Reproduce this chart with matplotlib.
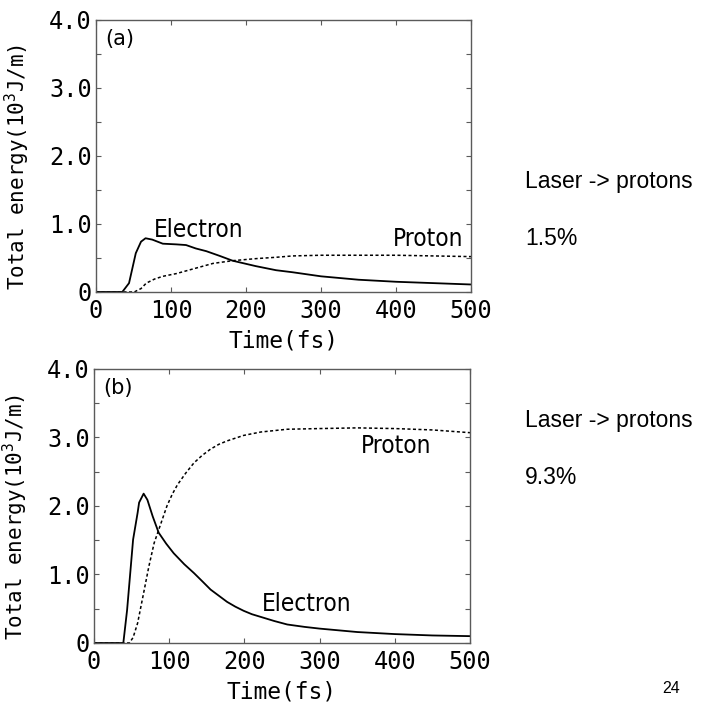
import matplotlib
matplotlib.use("Agg")
import matplotlib.pyplot as plt
from matplotlib import font_manager
from matplotlib.ticker import MultipleLocator

# panel (a): 1.5% laser -> protons
t_elec_a = [0, 35, 44, 53, 60, 66, 75, 89, 107, 120, 133, 147, 165, 182, 213, 240, 262, 300, 350, 400, 450, 500]
elec_a = [0, 0, 0.13, 0.57, 0.74, 0.79, 0.77, 0.71, 0.70, 0.69, 0.64, 0.60, 0.53, 0.46, 0.38, 0.32, 0.29, 0.23, 0.18, 0.15, 0.13, 0.11]
t_prot_a = [0, 51, 60, 67, 78, 89, 107, 133, 156, 182, 213, 240, 262, 300, 350, 400, 450, 500]
prot_a = [0, 0, 0.05, 0.13, 0.19, 0.23, 0.27, 0.35, 0.42, 0.46, 0.49, 0.51, 0.53, 0.54, 0.54, 0.54, 0.53, 0.52]

# panel (b): 9.3% laser -> protons
t_elec_b = [0, 39, 44, 52, 58, 60, 66, 71, 78, 86, 96, 106, 120, 133, 145, 155, 166, 177, 188, 199,
            210, 222, 240, 257, 280, 300, 350, 400, 450, 500]
elec_b = [0, 0, 0.48, 1.51, 1.90, 2.05, 2.18, 2.09, 1.85, 1.61, 1.45, 1.31, 1.15, 1.02, 0.89, 0.78, 0.69, 0.60, 0.53, 0.47,
          0.42, 0.38, 0.32, 0.27, 0.235, 0.21, 0.16, 0.13, 0.11, 0.10]
t_prot_b = [0, 47, 52, 58, 66, 73, 80, 86, 97, 104, 111, 122, 133, 144, 155, 166, 177, 199, 222, 257, 300, 350, 400, 450, 500]
prot_b = [0, 0, 0.08, 0.29, 0.73, 1.12, 1.46, 1.65, 2.00, 2.17, 2.31, 2.48, 2.63, 2.74, 2.83, 2.90, 2.95, 3.03, 3.08, 3.12, 3.13, 3.14, 3.13, 3.11, 3.07]

yticks = [0, 1, 2, 3, 4]
ytick_labels = ["0", "1.0", "2.0", "3.0", "4.0"]
xticks = [0, 100, 200, 300, 400, 500]
xtick_labels = ["0", "100", "200", "300", "400", "500"]

efficiency = ["1.5%", "9.3%"]
page_number = "24"

names = {f.name for f in font_manager.fontManager.ttflist}
if "Liberation Sans Narrow" in names:
    narrow = dict(family="Liberation Sans Narrow")
else:
    narrow = dict(family="DejaVu Sans", stretch="condensed")
mono = "DejaVu Sans Mono"
grey = "#5a5a5a"

fig = plt.figure(figsize=(7.02, 7.09), dpi=100)
ax_a = fig.add_axes([0.1368, 0.5882, 0.5342, 0.3836])
ax_b = fig.add_axes([0.1339, 0.0931, 0.5356, 0.3865])


def setup(ax, tag):
    ax.set_xlim(0, 500)
    ax.set_ylim(0, 4.0)
    ax.set_xticks(xticks)
    ax.set_xticklabels(xtick_labels, family=mono, fontsize=17)
    ax.set_yticks(yticks)
    ax.set_yticklabels(ytick_labels, family=mono, fontsize=17)
    ax.yaxis.set_minor_locator(MultipleLocator(0.5))
    ax.tick_params(which="both", direction="in", top=True, right=True,
                   color=grey, length=3.5, width=0.8)
    ax.tick_params(axis="x", pad=5)
    ax.tick_params(axis="y", pad=3)
    for s in ax.spines.values():
        s.set_color(grey)
        s.set_linewidth(1.0)
    ax.set_xlabel("Time(fs)", family=mono, fontsize=16.5, labelpad=5)
    ax.set_ylabel("Total energy(10$^{\\mathregular{3}}$J/m)", family=mono, fontsize=15)
    ax.yaxis.set_label_coords(-0.17, 0.46)
    ax.text(0.025, 0.968, tag, transform=ax.transAxes, fontsize=15,
            family="DejaVu Sans", va="top", ha="left")


setup(ax_a, "(a)")
ax_a.plot(t_elec_a, elec_a, color="black", lw=1.3)
ax_a.plot(t_prot_a, prot_a, color="black", lw=1.1, linestyle=(0, (2, 1.6)))
ax_a.text(137, 0.91, "Electron", fontsize=17.5, ha="center", va="center", **narrow)
ax_a.text(443, 0.78, "Proton", fontsize=17.5, ha="center", va="center", **narrow)

setup(ax_b, "(b)")
ax_b.plot(t_elec_b, elec_b, color="black", lw=1.3)
ax_b.plot(t_prot_b, prot_b, color="black", lw=1.1, linestyle=(0, (2, 1.6)))
ax_b.text(283, 0.57, "Electron", fontsize=17.5, ha="center", va="center", **narrow)
ax_b.text(402, 2.87, "Proton", fontsize=17.5, ha="center", va="center", **narrow)

side = dict(family="Liberation Sans", fontsize=16.5, ha="left", va="baseline")
fig.text(525 / 702, 1 - 188 / 709, "Laser -> protons", **side)
fig.text(525 / 702, 1 - 245 / 709, efficiency[0], **side)
fig.text(525 / 702, 1 - 427 / 709, "Laser -> protons", **side)
fig.text(525 / 702, 1 - 484 / 709, efficiency[1], **side)
fig.text(671 / 702, 1 - 693 / 709, page_number, family="Liberation Sans",
         fontsize=11.5, ha="center", va="baseline")

fig.savefig("out.png", dpi=100)
